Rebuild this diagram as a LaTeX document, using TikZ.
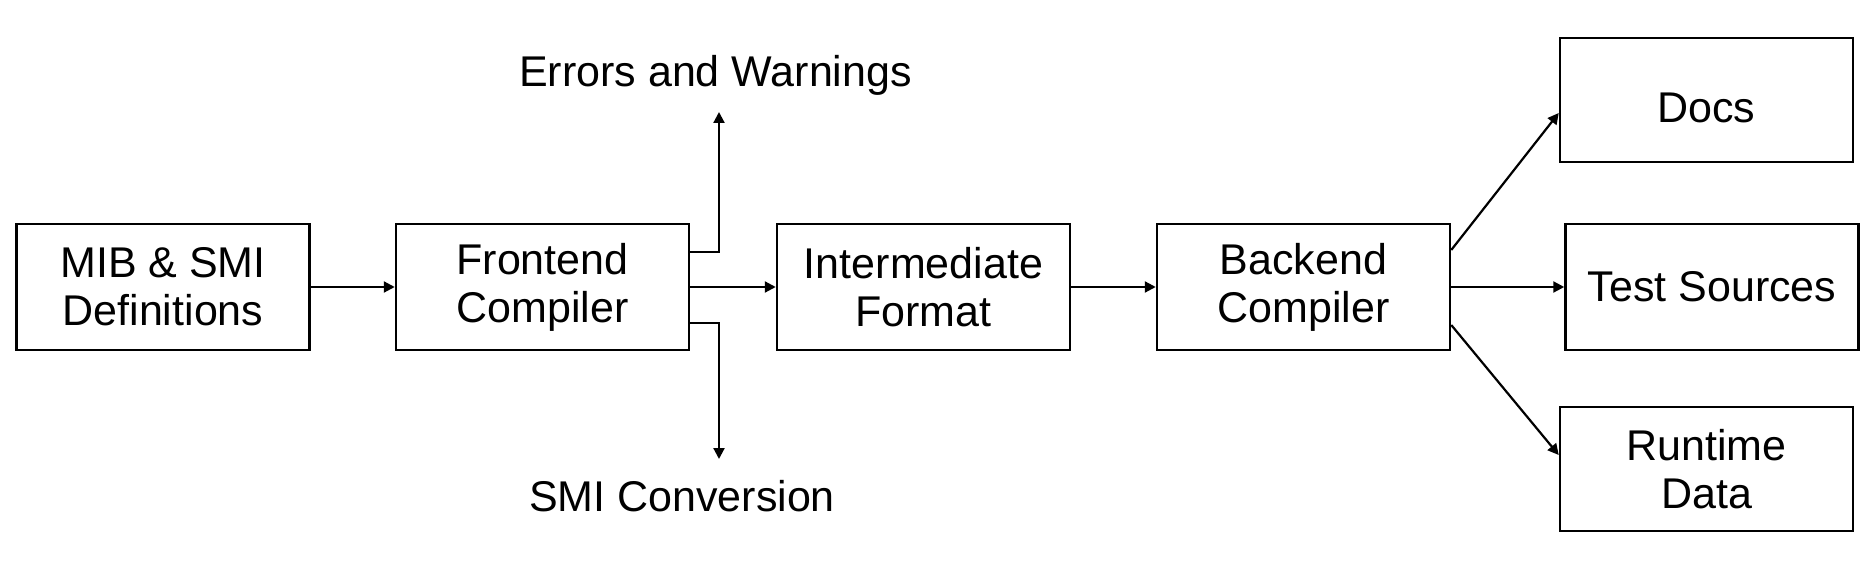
\documentclass[tikz,border=0pt]{standalone}
\usepackage{fontspec}
\setmainfont{Liberation Sans}
\usetikzlibrary{arrows.meta,positioning}

\begin{document}
\begin{tikzpicture}[x=1pt, y=-1pt,
  stage/.style={draw, line width=2.5pt, minimum width=293pt, minimum height=126pt,
    inner sep=0pt, align=center, font=\fontsize{43}{48}\selectfont},
  outbox/.style={stage, minimum height=124pt},
  flow/.style={-{Triangle[length=11pt,width=11pt]}, line width=2.2pt},
  tag/.style={anchor=base, inner sep=0pt, font=\fontsize{43}{48}\selectfont}]
\useasboundingbox (0,0) rectangle (1872,569);

% Pipeline stages
\node[stage] (mib) at (163,287) {MIB \& SMI\\Definitions};
\node[stage] (frontend) at (542.5,287) {Frontend\\Compiler};
\node[stage] (inter) at (923.5,287) {Intermediate\\Format};
\node[stage] (backend) at (1303.5,287) {Backend\\Compiler};

% Outputs
\node[outbox, text height=46pt] (docs) at (1706.5,100) {Docs};
\node[stage] (tests) at (1712,287) {Test Sources};
\node[outbox] (runtime) at (1706.5,469) {Runtime\\Data};

% Side products of the frontend
\node[tag] (errors) at (715.5,87) {Errors and Warnings};
\node[tag] (smiconv) at (682,511) {SMI Conversion};
\coordinate (errtip) at (719,112);
\coordinate (smitip) at (719,459);

\draw[flow] (mib) -- (frontend);
\draw[flow] (frontend) -- (inter);
\draw[flow] (inter) -- (backend);

\draw[flow] ([yshift=35pt]frontend.east) -| (errtip);
\draw[flow] ([yshift=-36pt]frontend.east) -| (smitip);

\draw[flow] ([yshift=37pt]backend.east) -- ([yshift=-13pt]docs.west);
\draw[flow] (backend) -- (tests);
\draw[flow] ([yshift=-38pt]backend.east) -- ([yshift=14pt]runtime.west);
\end{tikzpicture}
\end{document}
